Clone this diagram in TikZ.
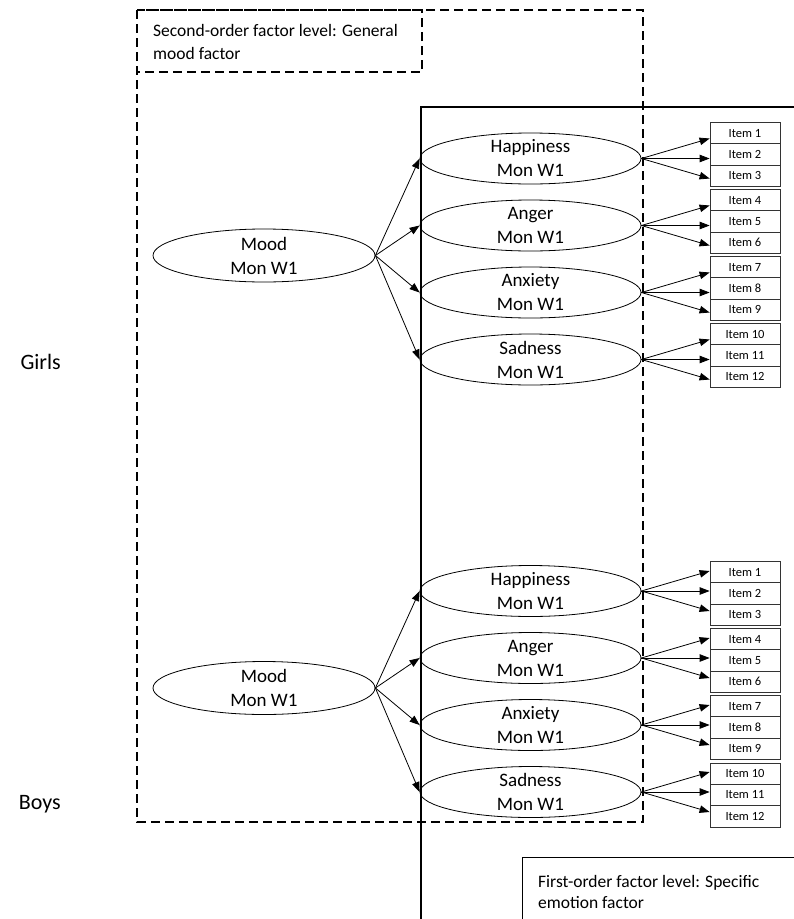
\documentclass[tikz,border=0pt]{standalone}
\usepackage{fontspec}
\setmainfont{Carlito}
\usetikzlibrary{arrows.meta,shapes.geometric,calc}
\newcommand\emofac[5]{%
  \node[ell] (#1) at (530.5,#2) {};
  \node[etxt] (#1t) at (#1.center) {#4\\Mon W1};
  \node[item] (#1a) at (745,#3-21.3) {Item #5};
  \node[item] (#1b) at (745,#3) {Item \the\numexpr#5+1\relax};
  \node[item] (#1c) at (745,#3+21.3) {Item \the\numexpr#5+2\relax};
  \draw[arr] (#1.east) -- ($(#1.east -| #1a.west)+(0,-20)$);
  \draw[arr] (#1.east) -- (#1.east -| #1b.west);
  \draw[arr] (#1.east) -- ($(#1.east -| #1c.west)+(0,20)$);
}
\begin{document}
\begin{tikzpicture}[x=1pt,y=-1pt,
  ell/.style={draw,ellipse,line width=0.8pt,minimum width=221pt,minimum height=51pt,inner sep=0pt},
  etxt/.style={align=center,font=\fontsize{19}{24}\selectfont,inner sep=0pt},
  item/.style={draw=black!80,line width=0.8pt,minimum width=70pt,minimum height=21.3pt,inner sep=0pt,font=\fontsize{12.5}{14}\selectfont},
  arr/.style={line width=0.8pt,-{Triangle[length=10pt,width=7.5pt]}},
  dbox/.style={line width=1.6pt,dash pattern=on 9pt off 5pt},
  lbl/.style={anchor=base west,inner sep=0pt,font=\fontsize{17.5}{21}\selectfont},
  grp/.style={anchor=base east,inner sep=0pt,font=\fontsize{22}{26}\selectfont}]
\useasboundingbox (0,0) rectangle (794,919);
% dashed second-order region
\draw[dbox] (137,10) rectangle (643,822);
\draw[dbox] (137,10) rectangle (422,72);
\node[lbl] (l1a) at (153,36) {Second-order factor level: General};
\node[lbl] (l1b) at (153,59) {mood factor};
% solid first-order region
\draw[line width=1.8pt] (421,919) -- (421,107) -- (794,107);
\draw[line width=0.8pt] (522,919) -- (522,857) -- (794,857);
\node[lbl] (l2a) at (538,887) {First-order factor level: Specific};
\node[lbl] (l2b) at (538,908) {emotion factor};
% group labels
\node[grp] (girls) at (61,369) {Girls};
\node[grp] (boys) at (61,809) {Boys};
% girls
\node[ell,minimum width=222pt,minimum height=53pt] (mg) at (264,255.5) {};
\node[etxt] (mgt) at (mg.center) {Mood\\Mon W1};
\emofac{gh}{158.5}{154.5}{Happiness}{1}
\emofac{gg}{225.5}{221.5}{Anger}{4}
\emofac{gx}{292.5}{288.5}{Anxiety}{7}
\emofac{gs}{359.5}{355.5}{Sadness}{10}
\foreach \e in {gh,gg,gx,gs} \draw[arr] (mg.east) -- (\e.west);
% boys
\node[ell,minimum width=222pt,minimum height=53pt] (mb) at (264,688) {};
\node[etxt] (mbt) at (mb.center) {Mood\\Mon W1};
\emofac{bh}{591}{593.5}{Happiness}{1}
\emofac{bg}{658}{660.5}{Anger}{4}
\emofac{bx}{725}{727.5}{Anxiety}{7}
\emofac{bs}{792}{795}{Sadness}{10}
\foreach \e in {bh,bg,bx,bs} \draw[arr] (mb.east) -- (\e.west);
\end{tikzpicture}
\end{document}
